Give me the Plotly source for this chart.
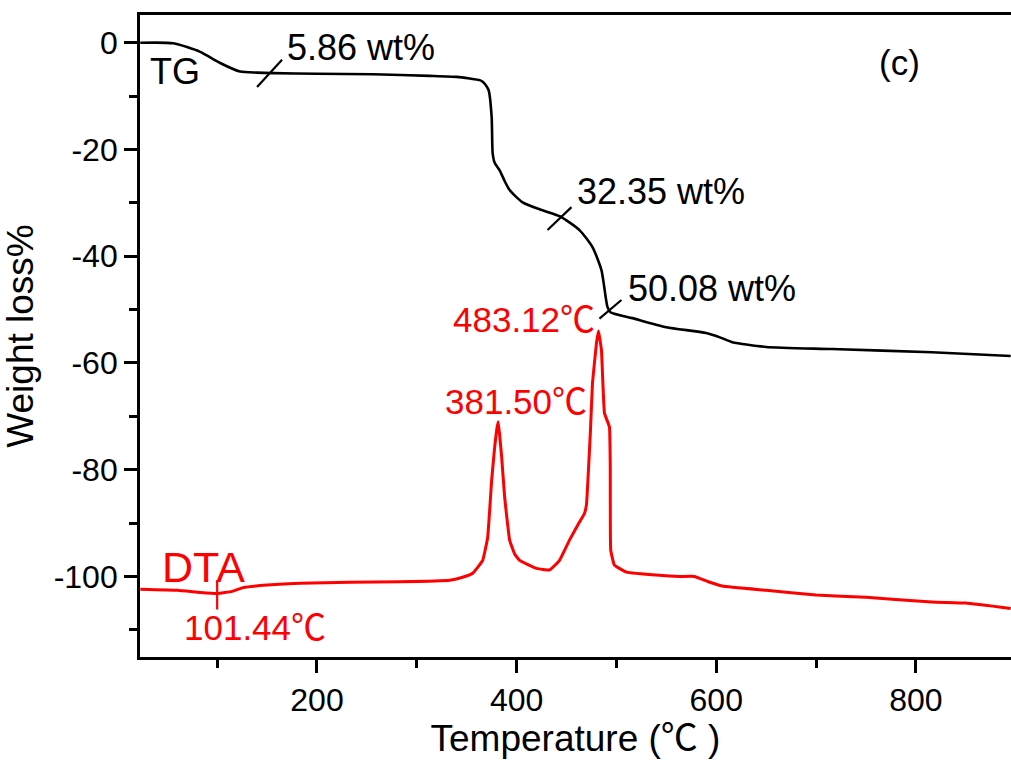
import plotly.graph_objects as go

# ---- data ----
tg_temp = [23, 56, 83, 103, 123, 140, 156, 200, 256, 313, 340, 353, 363, 366, 369, 372, 375, 376,
           378, 383, 388, 393, 406, 426, 443, 463, 476, 485, 491, 494, 516, 550, 590, 605, 616,
           650, 716, 816, 895]
tg_weight = [0, -0.1, -1.7, -3.8, -5.4, -5.6, -5.7, -5.8, -5.9, -6.2, -6.4, -6.7, -7.0, -7.3,
             -7.9, -8.9, -13.9, -20.7, -22.5, -23.9, -25.9, -27.6, -29.9, -31.4, -32.5, -35.1,
             -38.3, -42.6, -49.5, -50.5, -51.6, -53.3, -54.4, -55.3, -56.1, -57.0, -57.4, -58.0,
             -58.7]

dta_temp = [23, 60, 83, 100, 115, 126, 150, 183, 233, 283, 333, 345, 356, 366, 371, 375, 378,
            380, 381.5, 383, 385, 388, 393, 398, 403, 420, 433, 443, 453, 463, 468, 470, 472,
            474, 476, 480, 482, 485, 488, 493, 493.8, 494.3, 498, 510, 543, 563, 578, 592, 606,
            650, 700, 750, 816, 850, 895]
dta_signal = [-102.4, -102.6, -103.0, -103.2, -102.8, -102.1, -101.6, -101.3, -101.1, -101.0,
              -100.7, -100.2, -99.4, -97.0, -92.7, -82.0, -75.8, -72.6, -71.0, -73.5, -77.6,
              -85.1, -93.2, -95.8, -97.0, -98.5, -98.8, -97.0, -93.2, -89.8, -88.2, -86.5,
              -80.0, -72.6, -63.8, -56.3, -54.0, -57.6, -69.4, -72.0, -79.5, -95.1, -97.9,
              -99.2, -99.8, -100.0, -100.0, -101.0, -101.8, -102.6, -103.5, -103.9, -104.8,
              -105.0, -106.0]

x_major_ticks = [200, 400, 600, 800]
x_tick_labels = ["200", "400", "600", "800"]
y_major_ticks = [0, -20, -40, -60, -80, -100]
y_tick_labels = ["0", "-20", "-40", "-60", "-80", "-100"]

# annotation texts and anchor points (data coordinates)
tg_labels = ["5.86 wt%", "32.35 wt%", "50.08 wt%"]
tg_label_x = [168, 458, 510]
tg_label_y = [-0.8, -27.9, -46.1]
tg_marks = [((140, -8.3), (165, -3.2)), ((431, -35.1), (455, -30.8)), ((483, -51.7), (505, -48.2))]

dta_labels = ["483.12℃", "381.50℃", "101.44℃"]
dta_label_x = [481, 399, 138]
dta_label_y = [-51.9, -67.2, -109.5]
dta_label_anchor = ["right", "center", "center"]
dta_marks = [((100, -100.7), (100, -106.2))]

FONT = "Liberation Sans, Arial, Noto Sans CJK SC, sans-serif"
RED = "#ff0000"

fig = go.Figure()
fig.add_trace(go.Scatter(x=tg_temp, y=tg_weight, mode="lines",
                         line=dict(color="black", width=2.6, shape="spline", smoothing=0.6),
                         name="TG"))
fig.add_trace(go.Scatter(x=dta_temp, y=dta_signal, mode="lines",
                         line=dict(color=RED, width=3, shape="spline", smoothing=0.3),
                         name="DTA"))

for (x0, y0), (x1, y1) in tg_marks:
    fig.add_shape(type="line", x0=x0, y0=y0, x1=x1, y1=y1, xref="x", yref="y",
                  line=dict(color="black", width=2.2))
for (x0, y0), (x1, y1) in dta_marks:
    fig.add_shape(type="line", x0=x0, y0=y0, x1=x1, y1=y1, xref="x", yref="y",
                  line=dict(color=RED, width=2.2))

for t, x, y in zip(tg_labels, tg_label_x, tg_label_y):
    fig.add_annotation(x=x, y=y, text=t, showarrow=False, xanchor="left", yanchor="middle",
                       font=dict(family=FONT, size=36, color="black"))
for t, x, y, a in zip(dta_labels, dta_label_x, dta_label_y, dta_label_anchor):
    fig.add_annotation(x=x, y=y, text=t, showarrow=False, xanchor=a, yanchor="middle",
                       font=dict(family=FONT, size=35, color=RED))

fig.add_annotation(x=31, y=-5.4, text="TG", showarrow=False, xanchor="left", yanchor="middle",
                   font=dict(family=FONT, size=36, color="black"))
fig.add_annotation(x=43, y=-98.3, text="DTA", showarrow=False, xanchor="left", yanchor="middle",
                   font=dict(family=FONT, size=43, color=RED))
fig.add_annotation(x=784, y=-3.7, text="(c)", showarrow=False, xanchor="center", yanchor="middle",
                   font=dict(family=FONT, size=35, color="black"))

fig.update_layout(
    width=1011, height=762,
    margin=dict(l=140, r=0, t=15, b=105, pad=0),
    paper_bgcolor="white", plot_bgcolor="white",
    showlegend=False,
    font=dict(family=FONT, color="black"),
)
fig.update_xaxes(
    range=[22.7, 895.3], tickvals=x_major_ticks, ticktext=x_tick_labels, ticks="outside",
    ticklen=13, tickwidth=2.5, automargin=False,
    tickcolor="black", showline=True, linewidth=2.8, linecolor="black", mirror=True,
    showgrid=False, zeroline=False, tickfont=dict(size=32),
    minor=dict(dtick=100, tick0=0, ticks="outside", ticklen=8, tickwidth=2.5, tickcolor="black",
               showgrid=False),
    title=dict(text="Temperature (℃ )", font=dict(size=37), standoff=8),
)
fig.update_yaxes(
    range=[-115.1, 5.2], tickvals=y_major_ticks, ticktext=y_tick_labels, ticks="outside",
    ticklen=13, tickwidth=2.5, automargin=False,
    tickcolor="black", showline=True, linewidth=2.8, linecolor="black", mirror=False,
    showgrid=False, zeroline=False, tickfont=dict(size=32),
    minor=dict(dtick=10, tick0=0, ticks="outside", ticklen=8, tickwidth=2.5, tickcolor="black",
               showgrid=False),
    title=dict(text="Weight loss%", font=dict(size=37), standoff=10),
)

fig.write_html("out.html",
               config={"displayModeBar": False},
               post_script="document.body.style.margin='0';document.body.style.overflow='hidden';")
